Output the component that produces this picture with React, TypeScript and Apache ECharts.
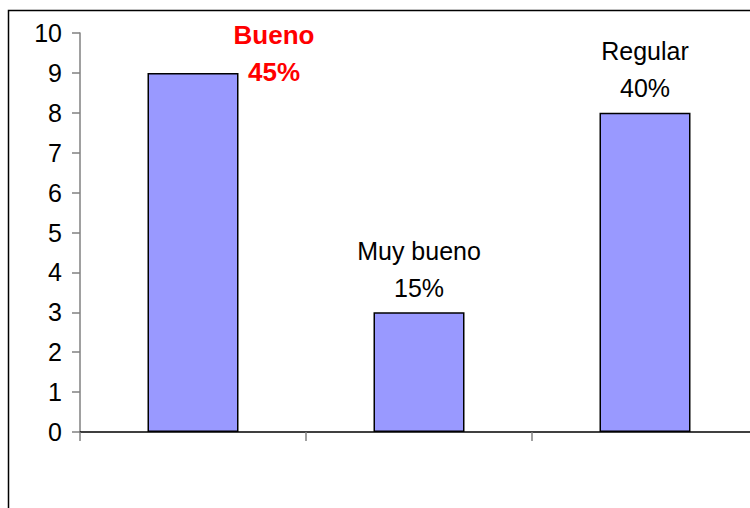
import React, { useEffect, useRef } from "react";
import * as echarts from "echarts";

// Ratings: number of answers and their share of the total
const categories = ["Bueno", "Muy bueno", "Regular"];
const counts = [9, 3, 8];
const shares = ["45%", "15%", "40%"];
const yTicks = { min: 0, max: 10, interval: 1 };

const FONT = "'Liberation Sans', Arial, sans-serif";

export default function App() {
  const ref = useRef<HTMLDivElement>(null);

  useEffect(() => {
    if (!ref.current) return;
    const chart = echarts.init(ref.current, undefined, { renderer: "svg" });

    const data = counts.map((v, i) => {
      const item: any = { value: v, name: categories[i] };
      if (i === 0) {
        // the leading category is called out in bold red, beside its bar
        item.label = {
          color: "#FF0000",
          fontWeight: "bold",
          fontSize: 26,
          offset: [81, 24],
        };
      }
      return item;
    });

    chart.setOption({
      animation: false,
      backgroundColor: "#ffffff",
      graphic: [
        {
          type: "rect",
          shape: { x: 8.5, y: 10.5, width: 800, height: 600 },
          style: { fill: "none", stroke: "#000000", lineWidth: 1.5 },
          silent: true,
        },
      ],
      grid: { left: 80, top: 33, width: 678, bottom: 76, containLabel: false },
      xAxis: {
        type: "category",
        data: categories,
        boundaryGap: true,
        axisLine: { show: true, lineStyle: { color: "#000000", width: 1.5 } },
        axisTick: { show: true, interval: 0, length: 9, lineStyle: { color: "#808080", width: 1.5 } },
        axisLabel: { show: false },
        splitLine: { show: false },
      },
      yAxis: {
        type: "value",
        min: yTicks.min,
        max: yTicks.max,
        interval: yTicks.interval,
        axisLine: { show: true, lineStyle: { color: "#808080", width: 1.5 } },
        axisTick: { show: true, length: 8, lineStyle: { color: "#808080", width: 1.5 } },
        axisLabel: {
          color: "#000000",
          fontFamily: FONT,
          fontSize: 25,
          margin: 18,
        },
        splitLine: { show: false },
      },
      series: [
        {
          type: "bar",
          data,
          barWidth: 91,
          itemStyle: { color: "#9999FF", borderColor: "#000000", borderWidth: 1.5 },
          label: {
            show: true,
            position: "top",
            distance: 6,
            color: "#000000",
            fontFamily: FONT,
            fontSize: 25,
            lineHeight: 37,
            align: "center",
            formatter: (p: any) => `${categories[p.dataIndex]}\n${shares[p.dataIndex]}`,
          },
        },
      ],
    });

    return () => chart.dispose();
  }, []);

  return (
    <div
      style={{
        position: "fixed",
        left: 0,
        top: 0,
        width: 750,
        height: 508,
        overflow: "hidden",
        background: "#ffffff",
      }}
    >
      <div ref={ref} style={{ width: 780, height: 508 }} />
    </div>
  );
}
